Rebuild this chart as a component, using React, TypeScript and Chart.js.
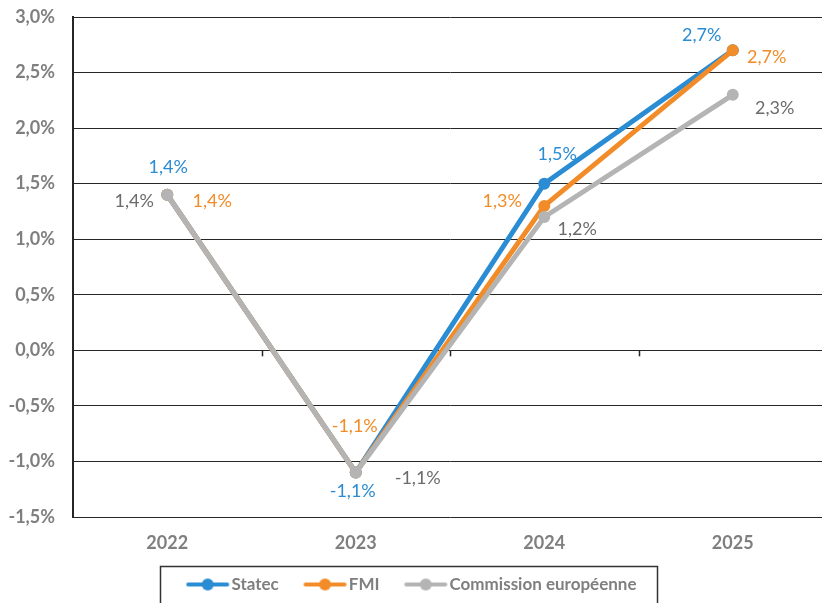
import React, { useEffect, useRef } from "react";
import { Chart, registerables } from "chart.js";

Chart.register(...registerables);

const categories = ["2022", "2023", "2024", "2025"];
const statec = [1.4, -1.1, 1.5, 2.7];
const fmi = [1.4, -1.1, 1.3, 2.7];
const commission = [1.4, -1.1, 1.2, 2.3];
const seriesNames = ["Statec", "FMI", "Commission européenne"];
const yMin = -1.5;
const yMax = 3.0;
const yStep = 0.5;

// label offsets (dx, dy) from each point, per series
const labelOffsets = [
  [[1, -28], [-3, 19], [13, -29], [-31, -15]],
  [[45, 6], [-1, -46], [-42, -5], [34, 7]],
  [[-33, 6], [62, 6], [33, 12], [42, 13]],
];

const lineColors = ["#2a8cd3", "#f28c28", "#b4b4b4"];
const labelColors = ["#2a8cd3", "#f28c28", "#6b6b6b"];
const FONT = "Lato, 'Open Sans', sans-serif";
const TEXT_GRAY = "#7f7f7f";
const GRID = "#262626";

const fmt = (v: number) => v.toFixed(1).replace(".", ",") + "%";

// legend marker: image centred on a 51.5px box; line placed right of centre
function legendIcon(color: string) {
  const c = document.createElement("canvas");
  c.width = 66;
  c.height = 14;
  const ctx = c.getContext("2d")!;
  ctx.strokeStyle = color;
  ctx.lineWidth = 4;
  ctx.lineCap = "round";
  ctx.beginPath();
  ctx.moveTo(24, 7);
  ctx.lineTo(63, 7);
  ctx.stroke();
  ctx.fillStyle = color;
  ctx.beginPath();
  ctx.arc(43.5, 7, 6, 0, Math.PI * 2);
  ctx.fill();
  return c;
}

export default function App() {
  const ref = useRef<HTMLCanvasElement | null>(null);
  useEffect(() => {
    if (!ref.current) return;
    const icons = lineColors.map(legendIcon);

    const dataLabels = {
      id: "dataLabels",
      afterDatasetsDraw(chart: any) {
        const ctx = chart.ctx;
        ctx.save();
        ctx.font = `18px ${FONT}`;
        ctx.textAlign = "center";
        ctx.textBaseline = "middle";
        chart.data.datasets.forEach((ds: any, i: number) => {
          const meta = chart.getDatasetMeta(i);
          ctx.fillStyle = labelColors[i];
          meta.data.forEach((pt: any, j: number) => {
            const [dx, dy] = labelOffsets[i][j];
            ctx.fillText(fmt(ds.data[j]), pt.x + dx, pt.y + dy);
          });
        });
        ctx.restore();
      },
    };

    const zeroTicks = {
      id: "zeroTicks",
      beforeDatasetsDraw(chart: any) {
        const x = chart.scales.x;
        const y = chart.scales.y;
        const y0 = y.getPixelForValue(0);
        const ctx = chart.ctx;
        ctx.save();
        ctx.strokeStyle = GRID;
        ctx.lineWidth = 1.5;
        for (let i = 0; i < categories.length - 1; i++) {
          const px = (x.getPixelForValue(i) + x.getPixelForValue(i + 1)) / 2;
          ctx.beginPath();
          ctx.moveTo(Math.round(px) + 0.5, y0);
          ctx.lineTo(Math.round(px) + 0.5, y0 + 6);
          ctx.stroke();
        }
        ctx.restore();
      },
    };

    const legendFrame = {
      id: "legendFrame",
      afterLayout(chart: any) {
        if (chart.legend) {
          chart.legend.left -= 12.5;
          chart.legend.right -= 12.5;
        }
      },
      afterDraw(chart: any) {
        const lg = chart.legend;
        if (!lg || !lg.legendHitBoxes || !lg.legendHitBoxes.length) return;
        const hb = lg.legendHitBoxes;
        const first = hb[0];
        const last = hb[hb.length - 1];
        const left = first.left - 11;
        const right = last.left + last.width + 21;
        const top = first.top - 10;
        const ctx = chart.ctx;
        ctx.save();
        ctx.strokeStyle = "#333333";
        ctx.lineWidth = 1.5;
        ctx.strokeRect(Math.round(left) + 0.5, Math.round(top) + 0.5, right - left, 80);
        ctx.restore();
      },
    };

    const seriesData = [statec, fmi, commission];
    const chart = new Chart(ref.current, {
      type: "line",
      data: {
        labels: categories,
        datasets: seriesData.map((d, i) => ({
          label: seriesNames[i],
          data: d,
          borderColor: lineColors[i],
          backgroundColor: lineColors[i],
          pointBackgroundColor: lineColors[i],
          pointBorderColor: lineColors[i],
          borderWidth: 5,
          pointRadius: 6,
          pointBorderWidth: 0,
          tension: 0,
          order: 3 - i,
        })),
      },
      options: {
        responsive: false,
        animation: false,
        devicePixelRatio: 1,
        layout: { padding: { left: 0, right: 0, top: 17, bottom: 0 } },
        plugins: {
          tooltip: { enabled: false },
          legend: {
            display: true,
            position: "bottom",
            labels: {
              usePointStyle: true,
              pointStyleWidth: 51.5,
              padding: 10,
              color: TEXT_GRAY,
              font: { family: FONT, size: 17, weight: "bold" },
              sort: (a: any, b: any) => a.datasetIndex - b.datasetIndex,
              generateLabels: (chart: any) => {
                const items = Chart.defaults.plugins.legend.labels.generateLabels(chart);
                return items.map((it: any) => ({
                  ...it,
                  pointStyle: icons[it.datasetIndex],
                  fontColor: TEXT_GRAY,
                }));
              },
            },
          },
        },
        scales: {
          x: {
            type: "category",
            offset: true,
            grid: { display: false, drawTicks: false },
            border: { display: false },
            ticks: {
              color: TEXT_GRAY,
              padding: 15,
              font: { family: FONT, size: 18, weight: "bold" },
            },
            afterFit: (s: any) => {
              s.height = 49;
            },
          },
          y: {
            type: "linear",
            min: yMin,
            max: yMax,
            grid: { color: GRID, lineWidth: 1, drawTicks: false },
            border: { display: true, color: GRID, width: 2 },
            ticks: {
              stepSize: yStep,
              color: TEXT_GRAY,
              padding: 18,
              font: { family: FONT, size: 18, weight: "bold" },
              callback: (v: any) => fmt(Number(v)),
            },
            afterFit: (s: any) => {
              s.width = 73;
              s.paddingTop = 0;
              s.paddingBottom = 0;
            },
          },
        },
      },
      plugins: [zeroTicks, dataLabels, legendFrame],
    } as any);
    return () => chart.destroy();
  }, []);

  return (
    <div
      style={{
        position: "fixed",
        left: 0,
        top: 0,
        width: 822,
        height: 603,
        overflow: "hidden",
        background: "#fff",
      }}
    >
      <canvas ref={ref} width={833} height={603} style={{ display: "block" }} />
    </div>
  );
}
